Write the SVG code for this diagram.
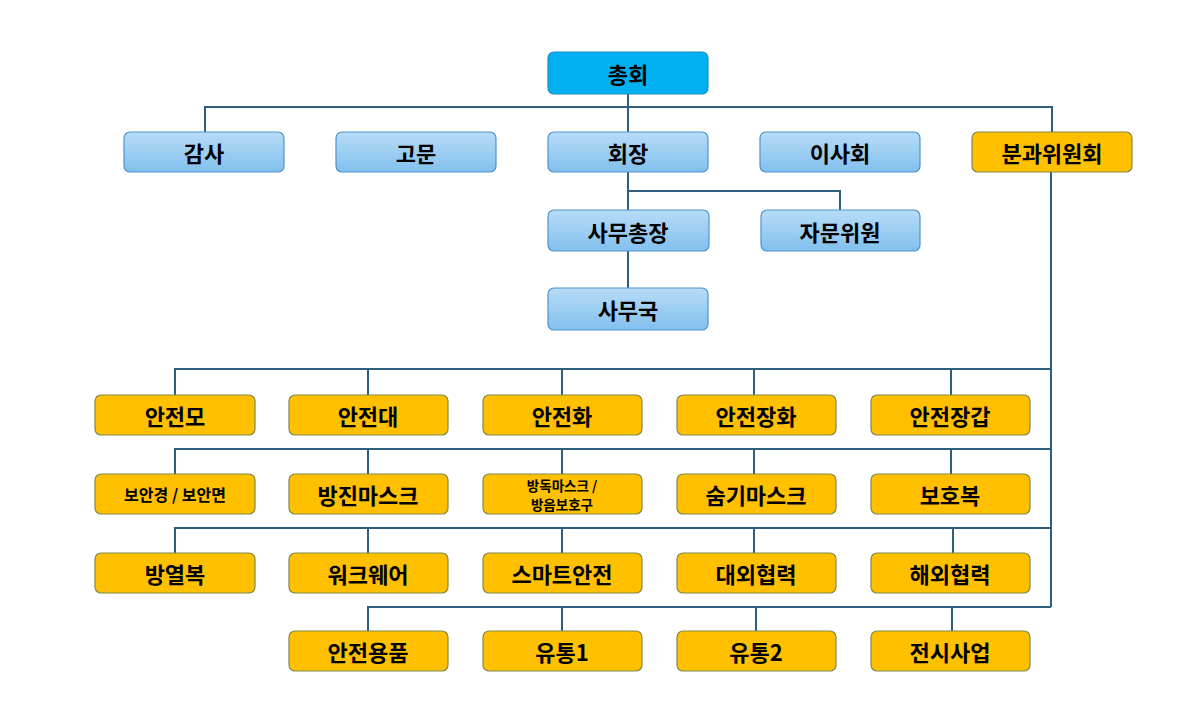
<svg xmlns="http://www.w3.org/2000/svg" width="1193" height="720" viewBox="0 0 1193 720">
<defs>
<linearGradient id="gb" x1="0" y1="0" x2="0" y2="1">
<stop offset="0" stop-color="#B7DCF7"/>
<stop offset="1" stop-color="#82C0EE"/>
</linearGradient>
<style>
.t{font-family:"Noto Sans CJK KR","Liberation Sans",sans-serif;font-weight:bold;font-size:22px;fill:#000;text-anchor:middle;dominant-baseline:central}
.s{font-size:16px}
.xs{font-size:13.5px}
.b{fill:url(#gb);stroke:#4F93CB;stroke-width:1.2}
.top{fill:#00B0F0;stroke:#1B8FC4;stroke-width:1.2}
.o{fill:#FFC000;stroke:#7F8A4A;stroke-width:1.2}
.c{fill:none;stroke:#2F5F7F;stroke-width:2}
</style>
</defs>
<rect width="1193" height="720" fill="#fff"/>
<g id="connectors" class="c">
<path d="M628 94V132M205 132V107H1052V132"/>
<path d="M628 172V210M628 191H840V210M628 251V288"/>
<path d="M1051 172V607"/>
<path d="M175 395V369H1051M368 369V395M562 369V395M754 369V395M951 369V395"/>
<path d="M175 474V449H1051M368 449V474M562 449V474M754 449V474M951 449V474"/>
<path d="M175 553V528H1051M368 528V553M562 528V553M754 528V553M953 528V553"/>
<path d="M368 631V607H1051M562 607V631M756 607V631M952 607V631"/>
</g>
<g id="n-chonghoe"><rect class="top" x="548" y="52" width="160" height="42" rx="6"/><text class="t" x="628" y="73">총회</text></g>
<g id="n-gamsa"><rect class="b" x="124" y="132" width="160" height="40" rx="6"/><text class="t" x="204" y="152">감사</text></g>
<g id="n-gomun"><rect class="b" x="336" y="132" width="160" height="40" rx="6"/><text class="t" x="416" y="152">고문</text></g>
<g id="n-hoejang"><rect class="b" x="548" y="132" width="160" height="40" rx="6"/><text class="t" x="628" y="152">회장</text></g>
<g id="n-isahoe"><rect class="b" x="760" y="132" width="160" height="40" rx="6"/><text class="t" x="840" y="152">이사회</text></g>
<g id="n-bungwa"><rect class="o" x="972" y="132" width="160" height="40" rx="6"/><text class="t" x="1052" y="152">분과위원회</text></g>
<g id="n-samuchongjang"><rect class="b" x="548" y="210" width="161" height="41" rx="6"/><text class="t" x="628" y="231">사무총장</text></g>
<g id="n-jamun"><rect class="b" x="761" y="210" width="159" height="41" rx="6"/><text class="t" x="840" y="231">자문위원</text></g>
<g id="n-samuguk"><rect class="b" x="548" y="288" width="160" height="42" rx="6"/><text class="t" x="628" y="309">사무국</text></g>
<g id="n-r3-1"><rect class="o" x="95" y="395" width="160" height="40" rx="6"/><text class="t" x="175" y="415">안전모</text></g>
<g id="n-r3-2"><rect class="o" x="289" y="395" width="159" height="40" rx="6"/><text class="t" x="368" y="415">안전대</text></g>
<g id="n-r3-3"><rect class="o" x="483" y="395" width="159" height="40" rx="6"/><text class="t" x="562" y="415">안전화</text></g>
<g id="n-r3-4"><rect class="o" x="677" y="395" width="159" height="40" rx="6"/><text class="t" x="756" y="415">안전장화</text></g>
<g id="n-r3-5"><rect class="o" x="871" y="395" width="159" height="40" rx="6"/><text class="t" x="950" y="415">안전장갑</text></g>
<g id="n-r4-1"><rect class="o" x="95" y="474" width="160" height="40" rx="6"/><text class="t s" x="175" y="494">보안경 / 보안면</text></g>
<g id="n-r4-2"><rect class="o" x="289" y="474" width="159" height="40" rx="6"/><text class="t" x="368" y="494">방진마스크</text></g>
<g id="n-r4-3"><rect class="o" x="483" y="474" width="159" height="40" rx="6"/><text class="t xs" x="562" y="484.5">방독마스크 /</text><text class="t xs" x="562" y="504">방음보호구</text></g>
<g id="n-r4-4"><rect class="o" x="677" y="474" width="159" height="40" rx="6"/><text class="t" x="756" y="494">숨기마스크</text></g>
<g id="n-r4-5"><rect class="o" x="871" y="474" width="159" height="40" rx="6"/><text class="t" x="950" y="494">보호복</text></g>
<g id="n-r5-1"><rect class="o" x="95" y="553" width="160" height="40" rx="6"/><text class="t" x="175" y="573">방열복</text></g>
<g id="n-r5-2"><rect class="o" x="289" y="553" width="159" height="40" rx="6"/><text class="t" x="368" y="573">워크웨어</text></g>
<g id="n-r5-3"><rect class="o" x="483" y="553" width="159" height="40" rx="6"/><text class="t" x="562" y="573">스마트안전</text></g>
<g id="n-r5-4"><rect class="o" x="677" y="553" width="159" height="40" rx="6"/><text class="t" x="756" y="573">대외협력</text></g>
<g id="n-r5-5"><rect class="o" x="871" y="553" width="159" height="40" rx="6"/><text class="t" x="950" y="573">해외협력</text></g>
<g id="n-r6-1"><rect class="o" x="289" y="631" width="159" height="40" rx="6"/><text class="t" x="368" y="651">안전용품</text></g>
<g id="n-r6-2"><rect class="o" x="483" y="631" width="159" height="40" rx="6"/><text class="t" x="562" y="651">유통1</text></g>
<g id="n-r6-3"><rect class="o" x="677" y="631" width="159" height="40" rx="6"/><text class="t" x="756" y="651">유통2</text></g>
<g id="n-r6-4"><rect class="o" x="871" y="631" width="159" height="40" rx="6"/><text class="t" x="950" y="651">전시사업</text></g>
</svg>
